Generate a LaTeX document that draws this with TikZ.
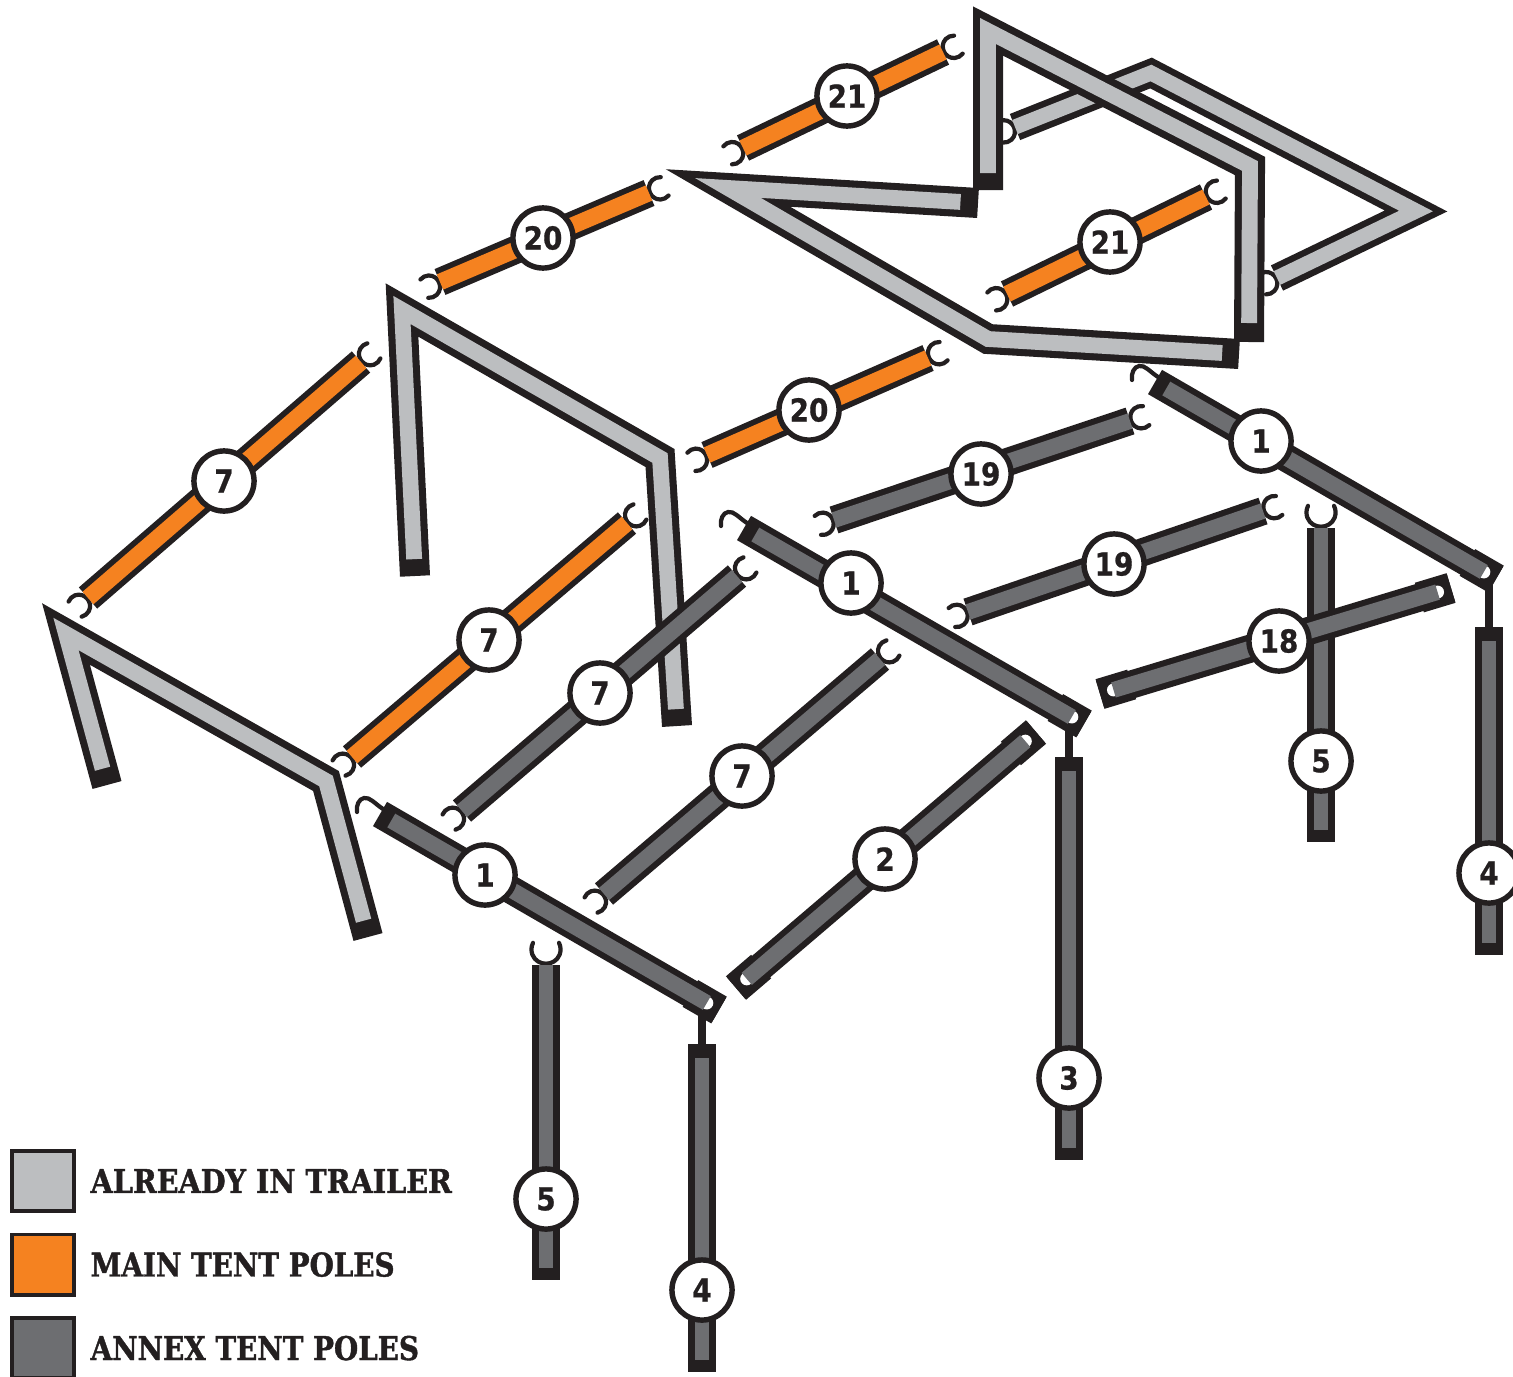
\documentclass[tikz,border=0pt]{standalone}
\usepackage{fontspec}
\usetikzlibrary{positioning,calc}
\newfontfamily\numfont[FakeStretch=0.88,FakeBold=0.6]{DejaVu Sans Bold}
\newfontfamily\legendfont[FakeStretch=0.85,FakeBold=1.2]{DejaVu Serif Bold}

\definecolor{poleblack}{HTML}{231F20}
\definecolor{trailergrey}{HTML}{BCBEC0}
\definecolor{mainorange}{HTML}{F58220}
\definecolor{annexgrey}{HTML}{6D6E71}

% Two layers of a pole, black first
\newcommand{\straightpole}[4][]{%
  \draw[polecase] (#3) -- (#4);
  \draw[#2,#1] (#3) -- (#4);
}
% C shaped hook at the end #2 of a pole coming from #3
\newcommand{\polehook}[3][1]{%
  \pgfmathanglebetweenpoints{\pgfpointanchor{#3}{center}}{\pgfpointanchor{#2}{center}}%
  \let\hookangle\pgfmathresult
  \draw[hookline,shift={(#2)},rotate=\hookangle,scale=#1]
    (17,10) .. controls (14,11.5) and (11,11.5) .. (8,10.5)
    .. controls (3,8.5) and (1,4) .. (1,0)
    .. controls (1,-4) and (3,-8.5) .. (8,-10.5)
    .. controls (11,-11.5) and (14,-11.5) .. (17,-10);
}
% Open wire hook at the short end of a roof pole
\newcommand{\wirehook}[1]{%
  \draw[hookline,shift={(#1)}] (3,-5) .. controls (-6,-11) and (-10,-17) .. (-16,-16)
    .. controls (-21,-15) and (-24,-9) .. (-23,-2);
}
% Wide black socket with a hole at the end #1, pole coming from #2
\newcommand{\polesocket}[2]{%
  \draw[socketcase] (#1) -- ($(#1)!9.4pt!(#2)$);
  \fill[white] ($(#1)!4pt!(#2)$) circle (6.5);
}

\begin{document}
\begin{tikzpicture}[x=0.01cm,y=-0.01cm,node distance=23.76pt]

\tikzstyle{polecase} = [line width=7.97pt, draw=poleblack]
\tikzstyle{framecase} = [line width=8.54pt, draw=poleblack, line join=miter]
\tikzstyle{trailerfill} = [line width=4.5pt, draw=trailergrey, line join=miter]
\tikzstyle{backcase} = [line width=7.97pt, draw=poleblack, line join=miter]
\tikzstyle{backfill} = [line width=4.3pt, draw=trailergrey, line join=miter]
\tikzstyle{mainfill} = [line width=4.7pt, draw=mainorange]
\tikzstyle{annexfill} = [line width=4.5pt, draw=annexgrey]
\tikzstyle{uprightfill} = [line width=3.98pt, draw=annexgrey]
\tikzstyle{socketcase} = [line width=8.8pt, draw=poleblack]
\tikzstyle{hookline} = [line width=1.2pt, draw=poleblack, line cap=round]
\tikzstyle{stem} = [line width=2.3pt, draw=poleblack]
\tikzstyle{number} = [circle, draw=poleblack, fill=white, line width=1.55pt, minimum size=17.1pt, inner sep=0pt, font=\numfont\fontsize{9}{9}\selectfont, text=poleblack]
\tikzstyle{swatch} = [rectangle, draw=poleblack, line width=1.1pt, minimum width=17.6pt, minimum height=17.1pt, inner sep=0pt]
\tikzstyle{legendtext} = [inner sep=0pt, font=\legendfont\fontsize{9.3}{9.3}\selectfont, text=poleblack]

\useasboundingbox (0,0) rectangle (1513,1376);

% Back frame, behind the top frame
\coordinate (backStart) at (1015,127);
\coordinate (backRidge) at (1151,73);
\coordinate (backTip) at (1416,211);
\coordinate (backEnd) at (1277,278);
\polehook{backStart}{backRidge}
\polehook{backEnd}{backTip}
\draw[backcase] (backStart) -- (backRidge) -- (backTip) -- (backEnd);
\draw[backfill] (backStart) -- (backRidge) -- (backTip) -- (backEnd);

% Top frame
\coordinate (topFootLeft) at (988,190);
\coordinate (topApex) at (988,31);
\coordinate (topCorner) at (1250,166);
\coordinate (topFootRight) at (1249,342);
\draw[framecase] (topFootLeft) -- (topApex) -- (topCorner) -- (topFootRight);
\draw[trailerfill, shorten <=4.8pt, shorten >=5.4pt] (topFootLeft) -- (topApex) -- (topCorner) -- (topFootRight);

% Middle frame
\coordinate (midEndTop) at (978,203);
\coordinate (midApex) at (728,188);
\coordinate (midCorner) at (988,339);
\coordinate (midEndLow) at (1239,354);
\draw[framecase] (midEndTop) -- (midApex) -- (midCorner) -- (midEndLow);
\draw[trailerfill, shorten <=5pt, shorten >=4.8pt] (midEndTop) -- (midApex) -- (midCorner) -- (midEndLow);

% Centre frame
\coordinate (centreFootLeft) at (415,576);
\coordinate (centreApex) at (402,310);
\coordinate (centreCorner) at (660,458);
\coordinate (centreFootRight) at (677,726);
\draw[framecase] (centreFootLeft) -- (centreApex) -- (centreCorner) -- (centreFootRight);
\draw[trailerfill, shorten <=4.8pt, shorten >=4.8pt] (centreFootLeft) -- (centreApex) -- (centreCorner) -- (centreFootRight);

% Front frame
\coordinate (frontFootLeft) at (107,785);
\coordinate (frontApex) at (66,634);
\coordinate (frontCorner) at (326,781);
\coordinate (frontFootRight) at (368,937);
\draw[framecase] (frontFootLeft) -- (frontApex) -- (frontCorner) -- (frontFootRight);
\draw[trailerfill, shorten <=4.8pt, shorten >=4.8pt] (frontFootLeft) -- (frontApex) -- (frontCorner) -- (frontFootRight);

% Main tent poles
\coordinate (mainUpperLow) at (743,148);
\coordinate (mainUpperHigh) at (943,52);
\polehook{mainUpperLow}{mainUpperHigh}
\polehook{mainUpperHigh}{mainUpperLow}
\straightpole{mainfill}{mainUpperLow}{mainUpperHigh}
\node[number] (numUpperTwentyOne) at (847,96) {21};

\coordinate (mainLowerLow) at (1007,294);
\coordinate (mainLowerHigh) at (1206,197);
\polehook{mainLowerLow}{mainLowerHigh}
\polehook{mainLowerHigh}{mainLowerLow}
\straightpole{mainfill}{mainLowerLow}{mainLowerHigh}
\node[number] (numLowerTwentyOne) at (1110,242) {21};

\coordinate (mainBackLow) at (440,282);
\coordinate (mainBackHigh) at (649,193);
\polehook{mainBackLow}{mainBackHigh}
\polehook{mainBackHigh}{mainBackLow}
\straightpole{mainfill}{mainBackLow}{mainBackHigh}
\node[number] (numBackTwenty) at (543,238) {20};

\coordinate (mainFrontLow) at (707,455);
\coordinate (mainFrontHigh) at (928,358);
\polehook{mainFrontLow}{mainFrontHigh}
\polehook{mainFrontHigh}{mainFrontLow}
\straightpole{mainfill}{mainFrontLow}{mainFrontHigh}
\node[number] (numFrontTwenty) at (809,410) {20};

\coordinate (mainSevenLeftLow) at (88,598);
\coordinate (mainSevenLeftHigh) at (361,362);
\polehook{mainSevenLeftLow}{mainSevenLeftHigh}
\polehook{mainSevenLeftHigh}{mainSevenLeftLow}
\straightpole{mainfill}{mainSevenLeftLow}{mainSevenLeftHigh}
\node[number] (numMainSevenLeft) at (224,481) {7};

\coordinate (mainSevenRightLow) at (352,757);
\coordinate (mainSevenRightHigh) at (627,523);
\polehook{mainSevenRightLow}{mainSevenRightHigh}
\polehook{mainSevenRightHigh}{mainSevenRightLow}
\straightpole{mainfill}{mainSevenRightLow}{mainSevenRightHigh}
\node[number] (numMainSevenRight) at (489,640) {7};

% Annex roof poles
\coordinate (annexSevenLeftLow) at (462,811);
\coordinate (annexSevenLeftHigh) at (737,576);
\polehook{annexSevenLeftLow}{annexSevenLeftHigh}
\polehook{annexSevenLeftHigh}{annexSevenLeftLow}
\straightpole{annexfill}{annexSevenLeftLow}{annexSevenLeftHigh}
\node[number] (numAnnexSevenLeft) at (600,693) {7};

\coordinate (annexSevenRightLow) at (604,894);
\coordinate (annexSevenRightHigh) at (880,659);
\polehook{annexSevenRightLow}{annexSevenRightHigh}
\polehook{annexSevenRightHigh}{annexSevenRightLow}
\straightpole{annexfill}{annexSevenRightLow}{annexSevenRightHigh}
\node[number] (numAnnexSevenRight) at (742,776) {7};

\coordinate (annexNineteenBackLow) at (834,520);
\coordinate (annexNineteenBackHigh) at (1130,421);
\polehook{annexNineteenBackLow}{annexNineteenBackHigh}
\polehook{annexNineteenBackHigh}{annexNineteenBackLow}
\straightpole{annexfill}{annexNineteenBackLow}{annexNineteenBackHigh}
\node[number] (numNineteenBack) at (981,474) {19};

\coordinate (annexNineteenFrontLow) at (968,612);
\coordinate (annexNineteenFrontHigh) at (1263,511);
\polehook{annexNineteenFrontLow}{annexNineteenFrontHigh}
\polehook{annexNineteenFrontHigh}{annexNineteenFrontLow}
\straightpole{annexfill}{annexNineteenFrontLow}{annexNineteenFrontHigh}
\node[number] (numNineteenFront) at (1114,564) {19};

% Annex uprights
\coordinate (uprightFiveLeftTop) at (546,965);
\coordinate (uprightFiveLeftFoot) at (546,1280);
\polehook[1.3]{uprightFiveLeftTop}{uprightFiveLeftFoot}
\straightpole[shorten >=3.4pt]{uprightfill}{uprightFiveLeftTop}{uprightFiveLeftFoot}
\node[number] (numFiveLeft) at (546,1199) {5};

\coordinate (uprightFiveRightTop) at (1321,528);
\coordinate (uprightFiveRightFoot) at (1321,842);
\polehook[1.3]{uprightFiveRightTop}{uprightFiveRightFoot}
\straightpole[shorten >=3.4pt]{uprightfill}{uprightFiveRightTop}{uprightFiveRightFoot}
\node[number] (numFiveRight) at (1321,761) {5};

% Ridge poles with their sockets and legs
\coordinate (ridgeFrontHook) at (380,814);
\coordinate (ridgeFrontSocket) at (719,1010);
\coordinate (legFourLeftTop) at (702,1044);
\coordinate (legFourLeftFoot) at (702,1372);
\draw[stem] (ridgeFrontSocket -| legFourLeftTop) -- (legFourLeftTop);
\straightpole[shorten <=4pt, shorten >=3.4pt]{uprightfill}{legFourLeftTop}{legFourLeftFoot}
\node[number] (numFourLeft) at (702,1290) {4};
\wirehook{ridgeFrontHook}
\draw[polecase] (ridgeFrontHook) -- (ridgeFrontSocket);
\polesocket{ridgeFrontSocket}{ridgeFrontHook}
\draw[annexfill, shorten <=3.7pt, shorten >=4pt] (ridgeFrontHook) -- (ridgeFrontSocket);
\node[number] (numRidgeFront) at (485,875) {1};

\coordinate (ridgeMidHook) at (744,528);
\coordinate (ridgeMidSocket) at (1084,724);
\coordinate (legThreeTop) at (1069,757);
\coordinate (legThreeFoot) at (1069,1160);
\draw[stem] (ridgeMidSocket -| legThreeTop) -- (legThreeTop);
\straightpole[shorten <=4pt, shorten >=3.4pt]{uprightfill}{legThreeTop}{legThreeFoot}
\node[number] (numThree) at (1069,1078) {3};
\wirehook{ridgeMidHook}
\draw[polecase] (ridgeMidHook) -- (ridgeMidSocket);
\polesocket{ridgeMidSocket}{ridgeMidHook}
\draw[annexfill, shorten <=3.7pt, shorten >=4pt] (ridgeMidHook) -- (ridgeMidSocket);
\node[number] (numRidgeMid) at (851,583) {1};

\coordinate (ridgeBackHook) at (1155,382);
\coordinate (ridgeBackSocket) at (1496,579);
\coordinate (legFourRightTop) at (1489,627);
\coordinate (legFourRightFoot) at (1489,955);
\draw[stem] (ridgeBackSocket -| legFourRightTop) -- (legFourRightTop);
\straightpole[shorten <=4pt, shorten >=3.4pt]{uprightfill}{legFourRightTop}{legFourRightFoot}
\node[number] (numFourRight) at (1489,873) {4};
\wirehook{ridgeBackHook}
\draw[polecase] (ridgeBackHook) -- (ridgeBackSocket);
\polesocket{ridgeBackSocket}{ridgeBackHook}
\draw[annexfill, shorten <=3.7pt, shorten >=4pt] (ridgeBackHook) -- (ridgeBackSocket);
\node[number] (numRidgeBack) at (1261,441) {1};

% Socket poles, pole 18 lies over the right upright
\coordinate (spanTwoLow) at (736,988);
\coordinate (spanTwoHigh) at (1036,732);
\draw[polecase] (spanTwoLow) -- (spanTwoHigh);
\polesocket{spanTwoLow}{spanTwoHigh}
\polesocket{spanTwoHigh}{spanTwoLow}
\draw[annexfill, shorten <=4pt, shorten >=4pt] (spanTwoLow) -- (spanTwoHigh);
\node[number] (numTwo) at (885,859) {2};

\coordinate (spanEighteenLow) at (1100,694);
\coordinate (spanEighteenHigh) at (1451,588);
\draw[polecase] (spanEighteenLow) -- (spanEighteenHigh);
\polesocket{spanEighteenLow}{spanEighteenHigh}
\polesocket{spanEighteenHigh}{spanEighteenLow}
\draw[annexfill, shorten <=4pt, shorten >=4pt] (spanEighteenLow) -- (spanEighteenHigh);
\node[number] (numEighteen) at (1279,641) {18};

% Legend
\node[swatch, fill=trailergrey] (swatchTrailer) at (43,1181) {};
\node[swatch, fill=mainorange, below of=swatchTrailer] (swatchMain) {};
\node[swatch, fill=annexgrey, below of=swatchMain] (swatchAnnex) {};
\node[legendtext, right=4pt of swatchTrailer] (labelTrailer) {\addfontfeature{FakeStretch=0.875}ALREADY IN TRAILER};
\node[legendtext, right=4pt of swatchMain] (labelMain) {MAIN TENT POLES};
\node[legendtext, right=4pt of swatchAnnex] (labelAnnex) {ANNEX TENT POLES};

\end{tikzpicture}
\end{document}
